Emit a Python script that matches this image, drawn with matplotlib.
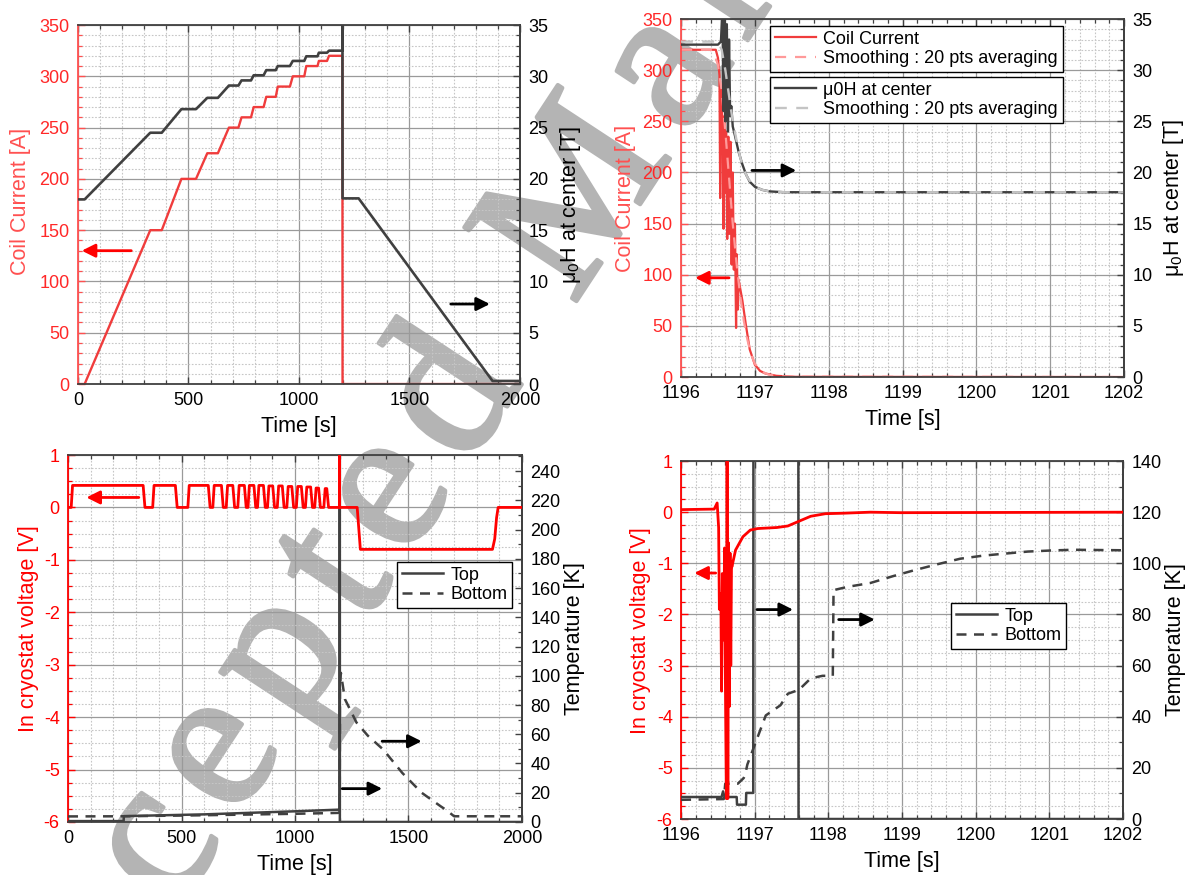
import numpy as np
import matplotlib
matplotlib.use("Agg")
import matplotlib.pyplot as plt
import matplotlib.patheffects as pe
from matplotlib.ticker import MultipleLocator

plt.rcParams['font.family'] = ['Liberation Sans', 'DejaVu Sans']
plt.rcParams['mathtext.fontset'] = 'custom'
plt.rcParams['mathtext.rm'] = 'Liberation Sans'
plt.rcParams['mathtext.it'] = 'Liberation Sans:italic'
plt.rcParams['axes.unicode_minus'] = False

# ---------------- data ----------------
# (a) ramp over 0..2000 s : coil current [A] and field at centre [T]
a_cur_t = [0, 30, 327, 379, 468, 534, 585, 633, 683, 726, 740, 783, 795, 840,
           852, 895, 904, 959, 972, 1024, 1033, 1084, 1090, 1127, 1136, 1196.5,
           1197.2, 2000]
a_cur = [0, 0, 150, 150, 200, 200, 225, 225, 250, 250, 260, 260, 270, 270,
         280, 280, 290, 290, 300, 300, 310, 310, 315, 315, 320, 320, 0, 0]
a_fld_t = [0, 30, 327, 379, 468, 534, 585, 633, 683, 726, 740, 783, 795, 840,
           852, 895, 904, 959, 972, 1024, 1033, 1084, 1090, 1127, 1136, 1196.3,
           1196.6, 1197.2, 1270, 1876, 2000]
a_fld = [18.0, 18.0, 24.5, 24.5, 26.8, 26.8, 27.9, 27.9, 29.1, 29.1, 29.6,
         29.6, 30.1, 30.1, 30.6, 30.6, 31.0, 31.0, 31.5, 31.5, 31.95, 31.95,
         32.3, 32.3, 32.5, 32.5, 40.0, 18.1, 18.1, 0.3, 0.3]

# (b) zoom on the quench 1196..1202 s
b_cur_t = [1196.0, 1196.47, 1196.50, 1196.52, 1196.53, 1196.54, 1196.56,
           1196.575, 1196.585, 1196.60, 1196.61, 1196.625, 1196.64, 1196.655,
           1196.67, 1196.685, 1196.70, 1196.715, 1196.73, 1196.745, 1196.755,
           1196.77, 1196.78, 1196.83, 1196.88, 1196.93, 1197.00, 1197.07,
           1197.14, 1197.29, 1197.55, 1202.0]
b_cur = [320, 320, 312, 295, 175, 285, 250, 145, 255, 180, 240, 135, 235, 140,
         230, 110, 200, 105, 150, 48, 120, 66, 95, 75, 50, 27, 12, 6, 3.5, 1.2,
         0.2, 0]
b_cur_s_t = [1196.0, 1196.40, 1196.45, 1196.50, 1196.55, 1196.60, 1196.65,
             1196.70, 1196.75, 1196.80, 1196.85, 1196.90, 1196.95, 1197.00,
             1197.10, 1197.20, 1197.40, 1202.0]
b_cur_s = [320, 320, 316, 305, 280, 240, 195, 150, 112, 80, 55, 36, 22, 13, 5,
           2, 0.5, 0]
b_fld_t = [1196.0, 1196.50, 1196.54, 1196.56, 1196.575, 1196.59, 1196.60,
           1196.62, 1196.635, 1196.65, 1196.665, 1196.68, 1196.70, 1196.73,
           1196.78, 1196.83, 1196.88, 1196.93, 1197.0, 1197.1, 1197.2, 1197.4,
           1202.0]
b_fld = [32.5, 32.5, 32.8, 36.0, 26.0, 35.0, 25.0, 34.5, 24.0, 33.0, 25.5,
         26.5, 24.5, 23.6, 22.0, 20.8, 19.8, 19.1, 18.6, 18.3, 18.15, 18.07,
         18.07]
b_fld_s_t = [1196.0, 1196.50, 1196.55, 1196.60, 1196.65, 1196.70, 1196.75,
             1196.80, 1196.85, 1196.90, 1196.95, 1197.0, 1197.1, 1197.2,
             1197.4, 1202.0]
b_fld_s = [32.8, 32.8, 32.0, 30.0, 27.5, 25.0, 23.2, 21.5, 20.3, 19.5, 19.0,
           18.6, 18.3, 18.15, 18.07, 18.07]

# (c) in-cryostat voltage [V] and temperatures [K] over 0..2000 s
pulse_on = [14, 373, 528, 638, 697, 748, 793, 835, 879, 922, 964, 1006, 1046,
            1087, 1127]
pulse_off = [339, 481, 626, 684, 734, 785, 827, 869, 910, 952, 994, 1036,
             1077, 1112, 1148]
pulse_v = [0.42, 0.42, 0.42, 0.42, 0.42, 0.42, 0.42, 0.42, 0.41, 0.41, 0.40,
           0.40, 0.39, 0.37, 0.36]
c_tail_t = [1196.3, 1196.5, 1196.7, 1274, 1288, 1870, 1880, 1888, 1895, 2000]
c_tail_v = [0, 1.5, 0, 0, -0.8, -0.8, -0.6, -0.2, 0, 0]
c_top_t = [0, 245, 246, 600, 1000, 1190, 1197, 1197.05, 1197.6, 1197.65, 2000]
c_top = [0.6, 0.6, 4.0, 5.2, 7.3, 8.4, 8.5, 300, 300, 0, 0]
c_bot_t = [0, 245, 600, 1000, 1190, 1197, 1197.9, 1198.1, 1202, 1220, 1271,
           1321, 1389, 1473, 1558, 1642, 1668, 1701, 1880, 1885, 1890, 2000]
c_bot = [3.8, 3.9, 4.6, 5.6, 6.2, 7.0, 56, 90, 102, 84, 68, 59, 49.5, 33.5,
         20, 10.7, 8, 3.9, 3.9, 5, 3.9, 3.9]

# (d) zoom on the quench 1196..1202 s
d_v_t = [1196.0, 1196.45, 1196.49, 1196.51, 1196.52, 1196.54, 1196.55,
         1196.56, 1196.58, 1196.59, 1196.60, 1196.615, 1196.625, 1196.635,
         1196.645, 1196.655, 1196.665, 1196.675, 1196.685, 1196.69, 1196.74,
         1196.84, 1196.94, 1197.04, 1197.30, 1197.45, 1197.58, 1197.76,
         1197.96, 1198.21, 1198.57, 1198.98, 1202.0]
d_v = [0.05, 0.06, 0.18, -0.3, -1.9, -1.6, -3.5, -1.2, -2.5, -0.7, -3.0, -5.6,
       1.5, -5.6, -0.6, -3.8, -0.8, -3.0, -1.0, -1.07, -0.74, -0.48, -0.35,
       -0.32, -0.30, -0.27, -0.19, -0.08, -0.03, -0.02, 0.0, -0.01, 0.0]
d_top_t = [1196.0, 1196.55, 1196.57, 1196.59, 1196.755, 1196.76, 1196.88,
           1196.885, 1196.98, 1196.985, 1197.59, 1197.595, 1202.0]
d_top = [8.6, 8.6, 10.8, 8.6, 8.6, 5.6, 5.6, 10.2, 10.2, 300, 300, 0, 0]
d_bot_t = [1196.0, 1196.58, 1196.60, 1196.77, 1196.85, 1196.87, 1196.90,
           1197.15, 1197.35, 1197.45, 1197.60, 1197.76, 1197.92, 1198.06,
           1198.07, 1198.26, 1198.57, 1198.88, 1199.18, 1199.49, 1199.79,
           1200.10, 1200.40, 1200.71, 1201.01, 1201.32, 1202.0]
d_bot = [7.5, 7.8, 13.8, 13.8, 16.0, 17.3, 21.3, 40.5, 44.5, 49.0, 50.5, 55.0,
         56.0, 56.0, 89.5, 90.8, 92.3, 95.0, 97.4, 99.7, 101.8, 103.0, 103.8,
         104.6, 105.0, 105.3, 105.1]

# arrows: (tail, tip) in data coords of the axis they point to
arrows = {
    'a_red': ((241, 130), (17, 130)),
    'a_blk': ((1687, 7.8), (1864, 7.8)),
    'b_red': ((1196.65, 97), (1196.19, 97)),
    'b_blk': ((1196.96, 20.2), (1197.56, 20.2)),
    'c_red': ((312, 0.19), (81, 0.19)),
    'c_blk1': ((1208, 22.8), (1384, 22.8)),
    'c_blk2': ((1384, 55.2), (1558, 55.2)),
    'd_red': ((1196.47, -1.19), (1196.18, -1.19)),
    'd_blk1': ((1197.03, 81.9), (1197.52, 81.9)),
    'd_blk2': ((1198.14, 78.0), (1198.63, 78.0)),
}

# ---------------- styling ----------------
DARK = '#404040'
RED = '#ff0000'
RED_LINE_TOP = '#f03c3c'
RED_LABEL_TOP = '#ff5050'
PINK = '#ff9a9a'
LGRAY = '#c4c4c4'
WM_GRAY = '#b4b4b4'
W, H = 1189, 875

fig = plt.figure(figsize=(W / 100, H / 100), dpi=100)

# diagonal letter-spaced watermark, drawn under everything
WM_TEXT = "Accepted Manuscript"
WM_ADV = {'A': .722, 'c': .444, 'e': .444, 'p': .5, 't': .278, 'd': .5,
          ' ': .25, 'M': .889, 'a': .444, 'n': .5, 'u': .5, 's': .389,
          'r': .333, 'i': .278}
wm_em, wm_track, wm_ang = 205.0, 20.0, 56.7      # px, px, degrees
ux, uy = np.cos(np.radians(wm_ang)), np.sin(np.radians(wm_ang))
x0, y0 = 21.3, H - 1146.3                        # baseline start, px (y up)
s = 0.0
for ch in WM_TEXT:
    cx = x0 + (s + WM_ADV[ch] * wm_em / 2) * ux
    cy = y0 + (s + WM_ADV[ch] * wm_em / 2) * uy
    if ch != ' ' and -120 < cx < W + 120 and -120 < cy < H + 120:
        fig.text((x0 + s * ux) / W, (y0 + s * uy) / H, ch, rotation=wm_ang,
                 rotation_mode='anchor', ha='left', va='baseline',
                 fontsize=wm_em * 0.72, family='Liberation Serif',
                 color=WM_GRAY, zorder=-1,
                 path_effects=[pe.withStroke(linewidth=3.0,
                                             foreground=WM_GRAY)])
    s += WM_ADV[ch] * wm_em + wm_track

rects = {
    'a': [0.0656, 0.5611, 0.3717, 0.4103],
    'b': [0.5728, 0.5691, 0.3726, 0.4091],
    'c': [0.0572, 0.0606, 0.3818, 0.4194],
    'd': [0.5728, 0.0640, 0.3717, 0.4091],
}


def make_panel(key, xlim, xmaj, xmin, ylim, ymaj, ymin, y2lim, y2maj, y2min,
               red, redlabel, ylabel, y2label, lab_x, lab2_x, lab_y=0.5):
    ax = fig.add_axes(rects[key])
    ax.patch.set_visible(False)
    ax2 = ax.twinx()
    ax.set_xlim(*xlim)
    ax.set_ylim(*ylim)
    ax2.set_ylim(*y2lim)
    ax.xaxis.set_major_locator(MultipleLocator(xmaj))
    ax.xaxis.set_minor_locator(MultipleLocator(xmin))
    ax.yaxis.set_major_locator(MultipleLocator(ymaj))
    ax.yaxis.set_minor_locator(MultipleLocator(ymin))
    ax2.yaxis.set_major_locator(MultipleLocator(y2maj))
    ax2.yaxis.set_minor_locator(MultipleLocator(y2min))
    ax.ticklabel_format(useOffset=False)
    ax.grid(which='major', color='#9a9a9a', lw=0.9)
    ax.grid(which='minor', color='#c6c6c6', lw=0.8, ls=(0, (1.5, 1.5)))
    ax.set_axisbelow(True)
    ax.tick_params(which='both', direction='in', top=True, labelsize=13,
                   pad=6)
    ax.tick_params(axis='x', which='both', color=DARK, labelcolor='black')
    ax.tick_params(axis='y', which='both', color=red, labelcolor=redlabel)
    ax.tick_params(which='major', length=5, width=1.0)
    ax.tick_params(which='minor', length=3, width=0.9)
    ax2.tick_params(axis='y', which='both', direction='in', color=DARK,
                    labelcolor='black', labelsize=13, pad=6)
    ax2.tick_params(axis='y', which='major', length=5, width=1.0)
    ax2.tick_params(axis='y', which='minor', length=3, width=0.9)
    for sp in ('top', 'bottom', 'right'):
        ax.spines[sp].set_color(DARK)
        ax.spines[sp].set_linewidth(1.3)
    ax.spines['left'].set_color(red)
    ax.spines['left'].set_linewidth(1.3)
    for sp in ('top', 'bottom', 'left'):
        ax2.spines[sp].set_visible(False)
    ax2.spines['right'].set_color(DARK)
    ax2.spines['right'].set_linewidth(1.3)
    ax.set_xlabel('Time [s]', fontsize=15.5, labelpad=5)
    ax.set_ylabel(ylabel, fontsize=15.5, color=red)
    ax2.set_ylabel(y2label, fontsize=15.5, color='black')
    ax.yaxis.set_label_coords(lab_x, lab_y)
    ax2.yaxis.set_label_coords(lab2_x, 0.5)
    return ax, ax2


def arrow(ax, key, color):
    tail, tip = arrows[key]
    ax.annotate('', xy=tip, xytext=tail,
                arrowprops=dict(arrowstyle='-|>', color=color, lw=2.0,
                                mutation_scale=20, shrinkA=0, shrinkB=0),
                zorder=6)


def legend(ax, handles, anchor):
    leg = ax.legend(handles=handles, loc='upper left', bbox_to_anchor=anchor,
                    borderaxespad=0, fontsize=13, frameon=True, fancybox=False,
                    framealpha=1, edgecolor='black', labelspacing=0.15,
                    borderpad=0.25, handlelength=2.3, handletextpad=0.4)
    leg.get_frame().set_linewidth(1.0)
    leg.set_zorder(10)
    return leg


# (a)
ax, ax2 = make_panel('a', (0, 2000), 500, 100, (0, 350), 50, 10, (0, 35), 5, 1,
                     RED_LABEL_TOP, '#ff2828', 'Coil Current [A]',
                     r'μ$_0$H at center [T]', -0.1065, 1.085, 0.51)
ax.plot(a_cur_t, a_cur, color=RED_LINE_TOP, lw=1.7)
ax2.plot(a_fld_t, a_fld, color=DARK, lw=1.9)
arrow(ax, 'a_red', RED)
arrow(ax2, 'a_blk', 'black')

# (b)
ax, ax2 = make_panel('b', (1196, 1202), 1, 0.2, (0, 350), 50, 10, (0, 35), 5, 1,
                     RED_LABEL_TOP, '#ff2828', 'Coil Current [A]',
                     r'μ$_0$H at center [T]', -0.101, 1.083)
l1, = ax.plot(b_cur_t, b_cur, color=RED_LINE_TOP, lw=1.6, label='Coil Current')
l2, = ax.plot(b_cur_s_t, b_cur_s, color=PINK, lw=1.6, ls=(0, (5, 4)),
              label='Smoothing : 20 pts averaging')
l3, = ax2.plot(b_fld_t, b_fld, color=DARK, lw=1.7, label='μ0H at center')
l4, = ax2.plot(b_fld_s_t, b_fld_s, color=LGRAY, lw=1.7, ls=(0, (5, 4)),
               label='Smoothing : 20 pts averaging')
arrow(ax, 'b_red', RED)
arrow(ax2, 'b_blk', 'black')
leg1 = legend(ax2, [l1, l2], (0.201, 0.980))
ax2.add_artist(leg1)
legend(ax2, [l3, l4], (0.201, 0.838))

# (c)
c_v_t, c_v = [0.0], [0.0]
for on, off, h in zip(pulse_on, pulse_off, pulse_v):
    c_v_t += [on, on + 6, off - 8, off]
    c_v += [0.0, h, h, 0.0]
c_v_t += c_tail_t
c_v += c_tail_v
ax, ax2 = make_panel('c', (0, 2000), 500, 100, (-6, 1), 1, 0.25, (0, 251), 20,
                     10, RED, RED, 'In cryostat voltage [V]', 'Temperature [K]',
                     -0.064, 1.092, 0.527)
t1, = ax2.plot(c_top_t, c_top, color=DARK, lw=1.8, label='Top')
t2, = ax2.plot(c_bot_t, c_bot, color=DARK, lw=1.8, ls=(0, (4, 3)),
               label='Bottom')
ax2.plot(c_v_t, c_v, color=RED, lw=2.0, transform=ax.transData, zorder=4)
ax2.set_ylim(0, 251)
arrow(ax, 'c_red', RED)
arrow(ax2, 'c_blk1', 'black')
arrow(ax2, 'c_blk2', 'black')
legend(ax2, [t1, t2], (0.725, 0.708))

# (d)
ax, ax2 = make_panel('d', (1196, 1202), 1, 0.2, (-6, 1), 1, 0.25, (0, 140), 20,
                     10, RED, RED, 'In cryostat voltage [V]', 'Temperature [K]',
                     -0.069, 1.0945, 0.527)
t1, = ax2.plot(d_top_t, d_top, color=DARK, lw=1.8, label='Top')
t2, = ax2.plot(d_bot_t, d_bot, color=DARK, lw=1.8, ls=(0, (4, 3)),
               label='Bottom')
ax2.plot(d_v_t, d_v, color=RED, lw=2.0, transform=ax.transData, zorder=4)
ax2.set_ylim(0, 140)
arrow(ax, 'd_red', RED)
arrow(ax2, 'd_blk1', 'black')
arrow(ax2, 'd_blk2', 'black')
legend(ax2, [t1, t2], (0.611, 0.603))

fig.savefig('out.png', dpi=100)
